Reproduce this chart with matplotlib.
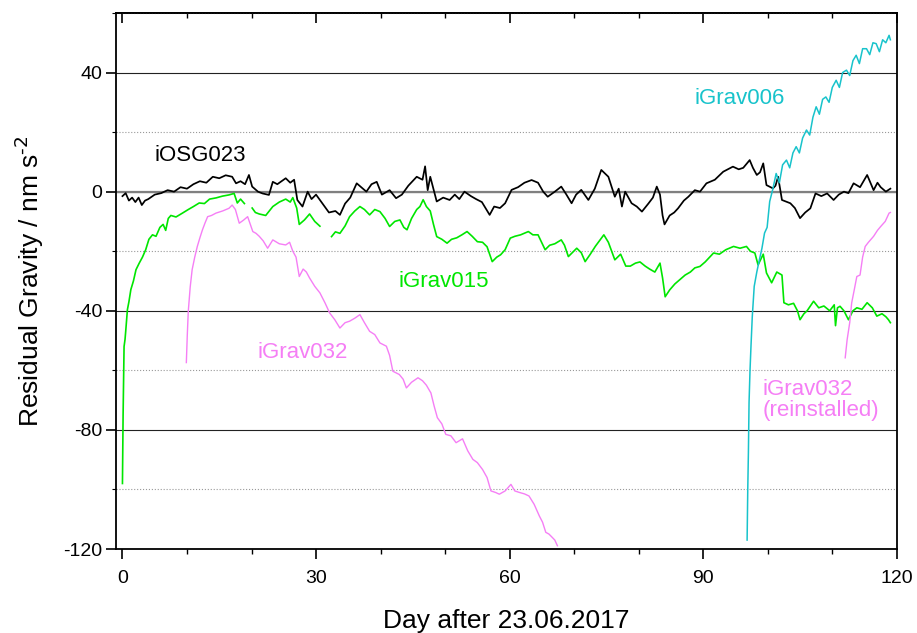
import matplotlib
matplotlib.use('Agg')
import matplotlib.pyplot as plt
from matplotlib.ticker import MultipleLocator

plt.rcParams['font.family'] = ['Liberation Sans', 'DejaVu Sans']
plt.rcParams['mathtext.default'] = 'regular'
plt.rcParams['axes.unicode_minus'] = False

# iOSG023 (black)
osg_day = [0, 0.5, 1, 1.5, 2, 2.5, 3, 3.5, 4, 5, 6, 7, 8, 9, 10, 11, 12, 13, 14, 15, 16, 17, 17.6, 18.3,
           19, 19.6, 20.1, 21, 21.7, 22.7, 23.3, 24, 25.3, 26, 26.6, 27.1, 27.9, 28.7, 29.3, 30, 31, 32, 33,
           33.7, 34.5, 35.3, 36.3, 37, 37.8, 38.6, 39.4, 40.2, 41.4, 42.4, 43.3, 44.3, 45.6, 46.5, 46.9, 47.3,
           47.7, 48.7, 49.7, 50.7, 51.5, 52.2, 53, 54, 54.8, 55.7, 56.9, 57.6, 58.5, 59.3, 60.3, 61.3, 62.3,
           63.4, 64.4, 65.2, 65.9, 67, 68, 68.8, 69.6, 70.3, 71.1, 72.2, 73.2, 74.2, 75.3, 76.3, 76.9, 77.4,
           77.9, 78.9, 79.7, 80.5, 81.5, 82.2, 82.8, 83.3, 83.7, 84, 84.8, 85.5, 86.1, 87, 87.7, 88.7, 89.5,
           90.5, 91.8, 93.1, 94.6, 95.5, 96.2, 97.2, 97.7, 98.3, 98.8, 99.3, 99.8, 100.8, 101.2, 101.6, 102.2,
           103.5, 104.2, 105, 105.8, 106.6, 107.4, 108.3, 109.2, 110.2, 111, 111.8, 112.5, 113.3, 114.3, 115.4,
           116, 116.4, 117, 117.5, 118.3, 119]
osg_val = [-1.5, -0.5, -3, -2, -3.5, -2, -4.5, -3, -2.5, -1, -0.5, 0.5, 0, 1.5, 1, 2.5, 3.5, 3, 5, 4.5, 5.5, 5,
           2.8, 3.5, 2.5, 5.6, 1.7, 0, -0.6, -1.1, 3.3, 2.5, 4.5, 3, 4, -2.8, -5, 0, -2.5, -1, -4, -7, -6.5,
           -7.8, -4, -2, 2.8, 1.5, 0, 2.5, 3.3, -1, 0.5, -2.2, -1, 2, 5, 4, 8.5, 0.5, 5, -3.3, -2, -2.8, -1,
           -2.5, 0, -1.5, -2.5, -3.5, -7.8, -5, -5.5, -3.9, 0.6, 1.5, 3, 3.9, 3, 0, -1.7, 0, 1.7, -1, -3.9,
           -1, 0.6, -2.8, 1, 7.3, 5, -1.7, 1, -5, 0, -3.9, -5, -6.7, -4, -2, 1.7, -1, -8, -11, -8, -7, -5.6,
           -3, -1.7, 0.5, 0, 2.8, 4, 6.7, 8.4, 7.5, 8, 10.6, 8, 5.6, 6.5, 9.5, 2.2, 1.1, 2, 5, -2.8, -3.9,
           -5.5, -8.9, -7, -5.6, -0.6, -1.5, -0.6, -2.8, -1, 0, -0.5, 2.8, 1.5, 5.6, 2.5, 0.5, 3, 1.5, 0, 1]

# iGrav015 (green), three segments separated by gaps
g15a_day = [0, 0.1, 0.25, 0.4, 0.5, 0.77, 1.0, 1.3, 1.7, 2.1, 2.6, 3.1, 3.6, 4.1, 4.65, 5.2, 5.8, 6.3, 6.7,
            7.1, 7.5, 8.3, 9.3, 10.2, 11, 11.9, 12.7, 13.5, 14.5, 15.5, 16.5, 17.3, 17.8, 18.3, 18.9]
g15a_val = [-98, -75, -52, -49.6, -47, -39.6, -37, -32.9, -30, -26.2, -24, -22, -19.5, -16, -14.5, -15, -12,
            -11, -13, -9, -8, -8.5, -7.2, -6, -5, -3.8, -4, -2.5, -2.1, -1.5, -1.1, -0.6, -3.8, -2.5, -4]
g15b_day = [20.1, 20.6, 21.2, 22.2, 23.3, 24.3, 25.3, 26, 26.4, 27, 27.4, 28.2, 29, 29.8, 30.6]
g15b_val = [-5.5, -7, -7.5, -8, -5, -3.5, -2.5, -3.5, -2, -5.5, -11, -9.5, -7.5, -10, -11.6]
g15c_day = [32.4, 33, 33.7, 34.5, 35.2, 36, 36.8, 37.5, 38.3, 39.1, 39.9, 40.7, 41.4, 42.2, 43, 43.6, 44.1,
            44.8, 45.6, 46.1, 46.6, 47.1, 47.7, 48.2, 48.7, 49.5, 50.3, 51, 51.8, 52.6, 53.4, 54.2, 55, 55.8,
            56.5, 57.3, 58, 58.6, 59.3, 60.1, 60.8, 61.7, 62.9, 63.6, 64.4, 65.5, 66.2, 67, 68, 68.5, 69.1,
            70.4, 71.1, 71.7, 72.5, 73.3, 74.6, 75.3, 76.3, 77.2, 78, 78.7, 79.5, 80.2, 81, 81.7, 82.5, 83.3,
            83.7, 84.1, 84.8, 85.6, 86.4, 87.2, 88, 88.7, 89.5, 90.3, 91.6, 92.5, 93.5, 94.7, 95.7, 96.7, 97.3,
            98, 98.5, 99.3, 99.8, 100.6, 101.4, 102.2, 102.5, 103.2, 104, 104.6, 105, 105.6, 106.1, 107.1,
            107.9, 108.7, 109.6, 110.3, 110.5, 110.8, 111.2, 111.8, 112.5, 113.2, 113.8, 114.6, 115.4, 116.2,
            116.9, 117.7, 118.3, 118.7, 119]
g15c_val = [-15.1, -13.5, -14, -11.5, -8.4, -6.5, -5, -6, -7.8, -6, -6.7, -9, -11.7, -10, -9.5, -12, -12.8,
            -9, -6, -5, -2.7, -5, -6.5, -11, -15.1, -16, -17.3, -16, -15.5, -14.5, -13.4, -15, -16.8, -17,
            -18.5, -23.5, -22, -21.2, -19.5, -15.6, -15, -14.5, -13.4, -14.5, -14.5, -19.5, -18, -17.5, -16.2,
            -18, -21.8, -19, -20.5, -23.5, -21, -18.3, -14.5, -17, -22.9, -21, -25, -25, -24, -23.6, -25, -26,
            -27, -24, -29, -35.3, -33, -31, -29.5, -28, -27, -25.6, -25.1, -23.6, -20.6, -21, -19.5, -18.4,
            -19, -18.4, -20, -20.6, -24.6, -21, -27.3, -30.6, -27, -28, -37.3, -38, -37.5, -40, -43, -41, -40,
            -36.8, -39, -38.4, -40, -38, -45, -39, -38.5, -40, -43, -40, -39, -39.5, -37.3, -39, -41.8, -41,
            -42, -43, -44]

# iGrav032 (pink) first installation and reinstallation
g32a_day = [9.9, 10.05, 10.2, 10.5, 10.8, 11.2, 11.6, 12, 12.4, 12.8, 13.2, 13.8, 14.5, 15.5, 16.5, 17, 17.5,
            18.1, 18.8, 19.4, 20.2, 20.7, 21.2, 21.8, 22.5, 23.3, 24.3, 25.3, 25.9, 26.4, 26.9, 27.4, 28, 28.5,
            29, 29.8, 30.6, 31.4, 32.1, 32.9, 33.7, 34.5, 35.2, 36, 36.8, 37.5, 38.3, 39.1, 39.9, 40.9, 41.4,
            41.9, 42.9, 43.5, 44, 44.8, 45.8, 46.5, 47.1, 47.8, 48.3, 48.8, 49.5, 50.1, 50.9, 51.7, 52.7, 53.5,
            54.3, 55, 55.8, 56.5, 57.1, 57.8, 58.4, 59.3, 60.2, 60.8, 61.5, 62.3, 63, 63.8, 64.6, 65.1, 65.6,
            66.1, 66.6, 67, 67.4]
g32a_val = [-57.4, -48, -40.2, -32, -26.2, -22, -18.4, -15.5, -12.8, -10.5, -8.4, -8, -7.2, -6.5, -5.6, -4.5,
            -6, -10.6, -9.5, -8.4, -13.4, -14, -15, -16.5, -19, -16.2, -17.5, -17.9, -17, -20, -22, -28.5, -26,
            -27, -29, -31.8, -34, -37.4, -40.7, -43, -45.8, -44, -43.5, -42.5, -41.3, -44, -46.9, -48, -50.8,
            -51.9, -55, -60.3, -61.4, -63, -65.9, -64, -62.5, -63.5, -65, -67.6, -72, -75.9, -78, -81.5, -82,
            -84.3, -83, -87, -89.9, -91, -93.3, -96, -100.5, -101, -101.6, -100.5, -98.3, -100.5, -101, -101.5,
            -102.2, -105, -108.9, -111, -114.4, -115, -116.1, -117, -118.9]
g32b_day = [112, 112.3, 112.7, 113, 113.4, 113.8, 114.3, 114.7, 115.1, 115.6, 116, 116.4, 117, 117.5, 118.2,
            118.8, 119]
g32b_val = [-55.8, -49.7, -44, -37.4, -33, -28.5, -28, -22, -18.4, -17, -16, -15, -13, -11.7, -10, -7.2, -7]

# iGrav006 (cyan)
g06_day = [96.8, 96.9, 97, 97.1, 97.25, 97.4, 97.6, 97.9, 98.3, 98.7, 99.1, 99.5, 99.9, 100.3, 100.8, 101.3,
           101.8, 102.3, 102.9, 103.4, 103.9, 104.4, 104.9, 105.4, 106, 106.5, 107, 107.5, 108, 108.5, 109,
           109.5, 110, 110.6, 111.1, 111.6, 112.2, 112.7, 113.2, 113.7, 114.2, 114.7, 115.3, 115.8, 116.3,
           116.8, 117.3, 117.8, 118.3, 118.8, 119]
g06_val = [-117, -100, -87.6, -70.8, -60, -51.9, -42, -31.8, -27, -22.9, -19, -13.9, -12, -3.3, 1, 6.1, 3, 9,
           10.6, 8, 13, 15.1, 13, 18, 20.7, 19, 25, 28.5, 26, 31, 31.8, 30, 35, 37.4, 35, 40, 40.8, 39, 44, 45.8,
           43, 48, 48, 46, 50, 49.7, 47, 51, 50, 52.5, 51]

green = '#00e600'
pink = '#f57ef5'
cyan = '#18c3cb'

fig = plt.figure(figsize=(9.17, 6.33), dpi=100)
ax = fig.add_axes([0.1265, 0.1327, 0.8515, 0.8468])

ax.set_xlim(-1, 120)
ax.set_ylim(-120, 60)
ax.xaxis.set_major_locator(MultipleLocator(30))
ax.xaxis.set_minor_locator(MultipleLocator(10))
ax.yaxis.set_major_locator(MultipleLocator(40))
ax.yaxis.set_minor_locator(MultipleLocator(20))

ax.yaxis.grid(True, which='major', color='#222222', lw=0.8, ls='-')
ax.yaxis.grid(True, which='minor', color='#999999', lw=0.8, ls=':')
ax.axhline(0, color='#808080', lw=1.6, zorder=1.5)
ax.set_axisbelow(True)

ax.plot(g15a_day, g15a_val, color=green, lw=1.2)
ax.plot(g15b_day, g15b_val, color=green, lw=1.2)
ax.plot(g15c_day, g15c_val, color=green, lw=1.2)
ax.plot(g32a_day, g32a_val, color=pink, lw=1.0)
ax.plot(g32b_day, g32b_val, color=pink, lw=1.0)
ax.plot(osg_day, osg_val, color='black', lw=1.25)
ax.plot(g06_day, g06_val, color=cyan, lw=1.1)

ax.text(5.0, 12.3, 'iOSG023', color='black', fontsize=16, va='center', ha='left')
ax.text(42.7, -30.2, 'iGrav015', color=green, fontsize=16, va='center', ha='left')
ax.text(20.9, -54, 'iGrav032', color=pink, fontsize=16, va='center', ha='left')
ax.text(88.6, 31.4, 'iGrav006', color=cyan, fontsize=16, va='center', ha='left')
ax.text(99.2, -69.8, 'iGrav032\n(reinstalled)', color=pink, fontsize=16, va='center', ha='left',
        linespacing=1.0)

for s in ax.spines.values():
    s.set_linewidth(1.3)
ax.tick_params(axis='x', which='major', direction='out', length=7, width=1.2, labelsize=14, top=False, pad=8)
ax.tick_params(axis='x', which='minor', direction='out', length=3.5, width=1.0, top=False)
ax.tick_params(axis='y', which='major', direction='out', length=7, width=1.2, labelsize=14, right=False, pad=3)
ax.tick_params(axis='y', which='minor', direction='out', length=3, width=0.8, right=False)

top = ax.secondary_xaxis('top')
top.xaxis.set_major_locator(MultipleLocator(30))
top.xaxis.set_minor_locator(MultipleLocator(10))
top.tick_params(axis='x', which='major', direction='in', length=7, width=1.2, labeltop=False)
top.tick_params(axis='x', which='minor', direction='in', length=3.5, width=1.0)
top.spines['top'].set_linewidth(1.3)

ax.set_xlabel('Day after 23.06.2017', fontsize=19, labelpad=16)
ax.set_ylabel(r'Residual Gravity / nm s$^{\text{-2}}$', fontsize=19, labelpad=12)

fig.savefig('out.png', dpi=100)
